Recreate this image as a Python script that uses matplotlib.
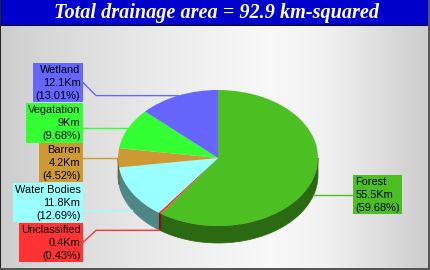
import numpy as np
import matplotlib
matplotlib.use("Agg")
import matplotlib.pyplot as plt
from matplotlib.patches import Rectangle, Polygon
from matplotlib.lines import Line2D

# ---- data ----
labels = ["Forest", "Unclassified", "Water Bodies", "Barren", "Vegatation", "Wetland"]
values = [55.5, 0.4, 11.8, 4.2, 9.0, 12.1]
colors = ["#4cbf22", "#ff3333", "#99ffff", "#cc9933", "#33ff33", "#6666ff"]
side_colors = ["#2b6a12", "#7a1414", "#4f8787", "#7a5b1e", "#1f9a1f", "#3c3c9a"]
title = "Total drainage area = 92.9 km-squared"

W, H = 430, 270
fig = plt.figure(figsize=(W / 100, H / 100), dpi=100)

# ---- background ----
bg = fig.add_axes([0, 0, 1, 1], zorder=0)
bg.set_xlim(0, W); bg.set_ylim(H, 0); bg.axis("off")
xs = np.array([0, 40, 160, 270, 330, 430])
vs = np.array([0.80, 0.84, 0.92, 0.975, 0.94, 0.80])
grad = np.interp(np.arange(W), xs, vs)
img = np.tile(grad, (H, 1))
bg.imshow(np.dstack([img, img, img]), extent=(0, W, H, 0), aspect="auto", zorder=0)
bg.add_patch(Rectangle((0, 0), W, 25, facecolor="#0000cc", edgecolor="none", zorder=2))
bg.add_patch(Rectangle((0, 25), W, 1, facecolor="#000000", edgecolor="none", zorder=2))
bg.add_patch(Rectangle((0, 0), 1, H, facecolor="#222222", edgecolor="none", zorder=3))
bg.add_patch(Rectangle((W - 2, 0), 2, H, facecolor="#555555", edgecolor="none", zorder=3))
bg.add_patch(Rectangle((0, H - 2), W, 2, facecolor="#555555", edgecolor="none", zorder=3))
bg.text(W / 2 + 1, 13, title, color="white", fontsize=14.6, fontweight="bold", fontstyle="italic",
        family="Liberation Serif", ha="center", va="center", zorder=4)

# ---- pie ----
cx, cy, rx, ry, depth_px = 218, 158, 100, 68, 17
ax = fig.add_axes([(cx - rx) / W, (H - cy - ry) / H, 2 * rx / W, 2 * ry / H], zorder=1)
wedges, _ = ax.pie(values, colors=colors, startangle=90, counterclock=False,
                   wedgeprops=dict(linewidth=0, antialiased=True))
ax.set_aspect("auto")
ax.set_xlim(-1, 1); ax.set_ylim(-1, 1)
ax.axis("off")
d = depth_px / ry

for w, sc in zip(wedges, side_colors):
    t1, t2 = sorted((w.theta1, w.theta2))
    for k in (-1, 0, 1):
        a, b = max(t1, 180 + 360 * k), min(t2, 360 + 360 * k)
        if b > a:
            t = np.radians(np.linspace(a, b, 80))
            top = np.column_stack([np.cos(t), np.sin(t)])
            bot = np.column_stack([np.cos(t[::-1]), np.sin(t[::-1]) - d])
            ax.add_patch(Polygon(np.vstack([top, bot]), closed=True, facecolor=sc,
                                 edgecolor=sc, linewidth=0.5, zorder=0, clip_on=False))
for w in wedges:
    w.set_zorder(2)

# ---- labels ----
ov = fig.add_axes([0, 0, 1, 1], zorder=3)
ov.set_xlim(0, W); ov.set_ylim(H, 0); ov.axis("off"); ov.patch.set_alpha(0)

# box layout: (left, top, right, bottom), text side, elbow
boxes = {
    "Wetland": (33, 63, 83, 102, "right", 96),
    "Vegatation": (26, 103, 83, 143, "right", None),
    "Barren": (39, 143, 83, 182, "right", None),
    "Water Bodies": (13, 183, 83, 222, "right", None),
    "Unclassified": (19, 223, 83, 262, "right", 96),
    "Forest": (353, 175, 402, 214, "left", None),
}
total = sum(values)
fig.canvas.draw()
inv = ov.transData.inverted()
for w, lab, v, c in zip(wedges, labels, values, colors):
    m = np.radians((w.theta1 + w.theta2) / 2)
    px, py = np.cos(m), np.sin(m)
    if py < 0:
        py -= d
    axp, ayp = inv.transform(ax.transData.transform((px, py)))
    l, t, r, b, side, elbow = boxes[lab]
    ov.add_patch(Rectangle((l, t), r - l, b - t, facecolor=c, edgecolor="none", zorder=2))
    if side == "right":
        mid = (t + b) / 2
        if elbow is not None:
            xsL = [r, elbow, axp]; ysL = [mid, ayp, ayp]
        else:
            xsL = [r, axp]; ysL = [ayp, ayp]
    else:
        xsL = [axp, l]; ysL = [ayp, ayp]
    ov.add_line(Line2D(xsL, ysL, color=c, linewidth=1, zorder=1))
    lines = [lab, f"{v:g}Km", f"({v / total * 100:.2f}%)"]
    for i, s in enumerate(lines):
        yy = t + 7 + 13 * i
        if side == "right":
            ov.text(r - 2.5, yy, s, ha="right", va="center", fontsize=7.9,
                    family="Liberation Sans", color="black", zorder=3)
        else:
            ov.text(l + 2.5, yy, s, ha="left", va="center", fontsize=7.9,
                    family="Liberation Sans", color="black", zorder=3)

fig.savefig("out.png", dpi=100)
